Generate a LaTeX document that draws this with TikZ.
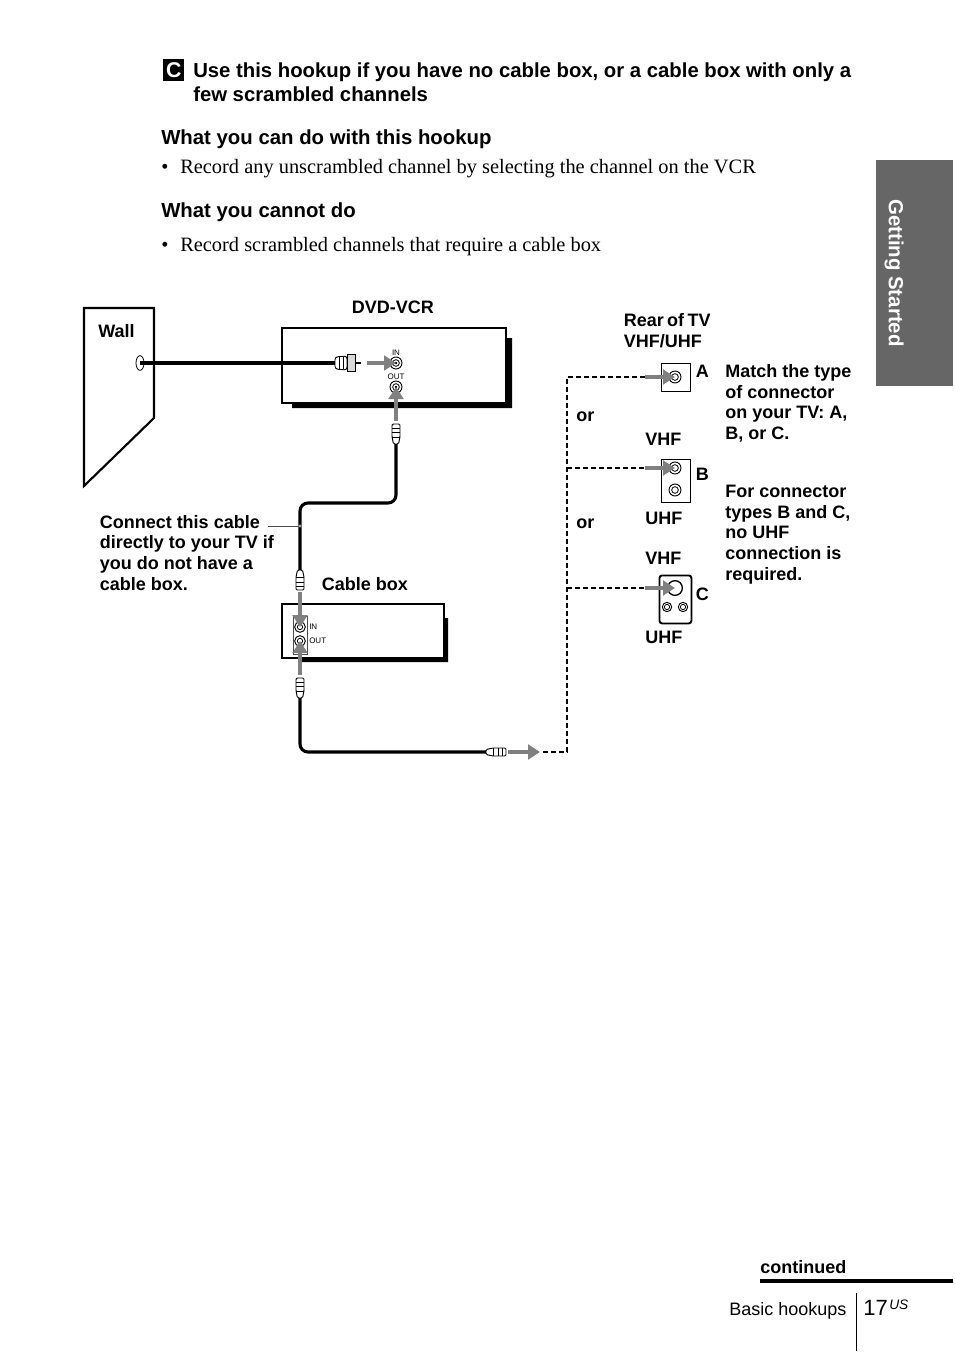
\documentclass[tikz,border=0pt]{standalone}
\usepackage{fontspec}
\setmainfont{Liberation Serif}
\setsansfont{Liberation Sans}
\usetikzlibrary{arrows.meta,positioning,calc,shapes.geometric}

\begin{document}
\begin{tikzpicture}[
    x=0.75pt, y=-0.75pt,
    head/.style={
        anchor=base west, inner sep=0pt, font=\fontsize{15.23}{18}\sffamily\bfseries
    },
    subhead/.style={
        anchor=base west, inner sep=0pt, font=\fontsize{15.27}{18}\sffamily\bfseries
    },
    body/.style={
        anchor=base west, inner sep=0pt, font=\fontsize{15.3}{18}\rmfamily
    },
    lbl/.style={
        anchor=base west, inner sep=0pt, align=left,
        font=\fontsize{13.5}{15.4}\selectfont\sffamily\bfseries
    },
    portlbl/.style={
        inner sep=0pt, font=\fontsize{6}{7}\selectfont\sffamily
    },
    devbox/.style={
        rectangle, draw=black, line width=1.6pt, fill=white, anchor=north west, inner sep=0pt
    },
    tvbox/.style={
        rectangle, draw=black, line width=1pt, fill=white, anchor=north west, inner sep=0pt
    },
    socket/.style={
        circle, draw=black, line width=0.7pt, fill=white, inner sep=0pt, minimum size=9pt
    },
    hub/.style={
        circle, draw=black, line width=0.6pt, fill=white, inner sep=0pt, minimum size=5pt
    },
    plugbody/.style={
        draw=black, line width=0.7pt, fill=white
    },
    coaxplug/.pic={
        \draw[plugbody, rounded corners=1pt] (-4,0) -- (4,0) -- (4,13) -- (2.5,20) -- (-2.5,20) -- (-4,13) -- cycle;
        \draw[line width=0.6pt] (-4,4) -- (4,4) (-4,8) -- (4,8) (-4,13) -- (4,13);
        \coordinate (-tail) at (0,20);
        \coordinate (-cap) at (0,0);
    },
    cable/.style={
        line width=2.3pt, black, rounded corners=6pt
    },
    signal/.style={
        -{Triangle[length=9pt,width=11pt]}, line width=2.8pt, black!50
    },
    dashline/.style={
        line width=1pt, black, dash pattern=on 3.5pt off 2.5pt
    }
]
\useasboundingbox (0,0) rectangle (954,1352);

% === Page text ===
\node[rectangle, fill=black, text=white, inner sep=0pt, minimum width=15.75pt, minimum height=16.5pt,
      font=\fontsize{16}{18}\sffamily\bfseries, anchor=north west] (markC) at (163,59) {C};
\node[head] (title1) at (193,78) {Use this hookup if you have no cable box, or a cable box with only a};
\node[head] (title2) at (193,102) {few scrambled channels};
\node[subhead] (cando) at (161,145) {What you can do with this hookup};
\node[body] (bullet1) at (161,174) {•};
\node[body] (cantext) at (180,174) {Record any unscrambled channel by selecting the channel on the VCR};
\node[subhead] (cannot) at (161,217) {What you cannot do};
\node[body] (bullet2) at (161,251) {•};
\node[body] (cannottext) at (180,251) {Record scrambled channels that require a cable box};

% === Side tab ===
\node[rectangle, fill=black!60, inner sep=0pt, minimum width=57.75pt, minimum height=169.5pt,
      anchor=north west] (tab) at (876,160) {};
\node[rotate=-90, text=white, inner sep=0pt, font=\fontsize{15.3}{18}\sffamily\bfseries] (tabtext) at (894,273) {Getting Started};

% === Wall ===
\draw[line width=1.6pt, black] (84,308) -- (154,308) -- (154,418) -- (84,486) -- cycle;
\node[lbl] (wall) at (98,337) {Wall};
\node[ellipse, draw=black, line width=0.6pt, fill=white, inner sep=0pt, minimum width=6pt, minimum height=11pt] (wallsocket) at (140,363) {};

% === DVD-VCR ===
\fill[black] (292,403) -- (292,408) -- (512,408) -- (512,338) -- (506,338) -- (506,403) -- cycle;
\node[devbox, minimum width=168pt, minimum height=56pt] (DVD) at (281,327) {};
\node[lbl] (dvdlbl) at (351.5,313) {DVD-VCR};
\node[socket] (dvdin) at (396,363) {};
\node[hub] at (396,363) {};
\fill (396,363) circle (1pt);
\node[socket] (dvdout) at (396,387) {};
\node[hub] at (396,387) {};
\fill (396,387) circle (1pt);
\node[portlbl] (dvdinlbl) at (396,353) {IN};
\node[portlbl] (dvdoutlbl) at (396,377) {OUT};

% === Cable box ===
\fill[black] (300,657) -- (300,662) -- (448,662) -- (448,618) -- (443,618) -- (443,657) -- cycle;
\node[devbox, line width=1.3pt, minimum width=121.5pt, minimum height=40.5pt] (CBX) at (281,603) {};
\node[lbl] (cbxlbl) at (321.5,590) {Cable box};
\node[rectangle, draw=black!70, line width=0.6pt, fill=white, inner sep=0pt, minimum width=10.5pt, minimum height=28.5pt] (panel) at (300,635) {};
\node[socket, minimum size=8pt] (cbxin) at (300,627) {};
\node[hub, minimum size=4pt] at (300,627) {};
\node[socket, minimum size=8pt] (cbxout) at (300,641) {};
\node[hub, minimum size=4pt] at (300,641) {};
\node[portlbl, anchor=west] (cbxinlbl) at (309,627) {IN};
\node[portlbl, anchor=west] (cbxoutlbl) at (309,641) {OUT};

% === TV connectors ===
\node[tvbox, minimum width=21.75pt, minimum height=21pt] (tvA) at (660.5,362.5) {};
\node[socket] (sockA) at (675,377) {};
\node[hub] at (675,377) {};
\node[tvbox, minimum width=21.75pt, minimum height=32.25pt] (tvB) at (660.5,458.5) {};
\node[socket] (sockB) at (675,468) {};
\node[hub] at (675,468) {};
\node[socket] (sockBu) at (675,490) {};
\node[hub] at (675,490) {};
\node[tvbox, rounded corners=2pt, line width=1.4pt, minimum width=24pt, minimum height=36pt] (tvC) at (658.5,574.5) {};
\node[socket, line width=1pt, minimum size=11pt] (sockC) at (675,588) {};
\node[socket, minimum size=7pt] (sockCl) at (667,607) {};
\node[hub, minimum size=4pt] at (667,607) {};
\node[socket, minimum size=7pt] (sockCr) at (683,607) {};
\node[hub, minimum size=4pt] at (683,607) {};

% === Cables ===
\coordinate (wallend) at (140,363);
\coordinate (wallplug) at (336,363);
\coordinate (bendA) at (396,503);
\coordinate (bendB) at (300,503);
\coordinate (bendC) at (300,752);
\pic (plugout) at (396,424) {coaxplug};
\pic[rotate=180] (plugin) at (300,590) {coaxplug};
\pic (plugcbx) at (300,678) {coaxplug};
\pic[rotate=-90] (plugtv) at (506,752) {coaxplug};
\draw[cable] (wallend) -- (wallplug);
\draw[cable] (plugout-tail) -- (bendA) -- (bendB) -- (plugin-tail);
\draw[cable] (plugcbx-tail) -- (bendC) -- (plugtv-tail);

% wall plug
\draw[plugbody, rounded corners=2pt] (335,357) -- (347,356) -- (347,370) -- (335,369) -- cycle;
\draw[line width=0.6pt] (339,357) -- (339,369) (343,357) -- (343,369);
\node[rectangle, draw=black, line width=0.7pt, fill=black!15, inner sep=0pt, minimum width=6pt, minimum height=13pt] (plugnut) at (351,363) {};
\coordinate (plugpin) at (361,363);
\draw[line width=1pt] (plugnut.east) -- (plugpin);

% === Signal arrows ===
\draw[signal] (367,363) -- (dvdin.center);
\draw[signal] (396,421) -- (dvdout.center);
\draw[signal] (300,592) -- (cbxin.center);
\draw[signal] (300,675) -- (cbxout.center);
\coordinate (tvout) at (540,752);
\draw[signal] (508,752) -- (tvout);

% === Dashed run to the TV ===
\coordinate (dashstart) at (543,752);
\coordinate (dashcorner) at (567,752);
\coordinate (dashtop) at (567,377);
\coordinate (dashB) at (567,468);
\coordinate (dashC) at (567,588);
\draw[dashline] (dashstart) -- (dashcorner) -- (dashtop) -- (sockA.west);
\draw[dashline] (dashB) -- (sockB.west);
\draw[dashline] (dashC) -- (sockC.west);
\draw[signal] (645,377) -- (sockA.center);
\draw[signal] (645,468) -- (sockB.center);
\draw[signal] (645,588) -- (sockC.center);

% === Lead line to the note ===
\coordinate (notelead) at (268,526);
\coordinate (notedot) at (300,526);
\draw[line width=0.6pt, black!70] (notelead) -- (notedot);
\fill[black!35] (notedot) circle (1.2pt);

% === Labels ===
\node[lbl] (note) at (99.5,590) {Connect this cable\\directly to your TV if\\you do not have a\\cable box.};
\node[lbl] (rear) at (623.5,347) {{\spaceskip=0.19em Rear of TV}\\VHF/UHF};
\node[lbl] (orA) at (576,421) {or};
\node[lbl] (orB) at (576,528) {or};
\node[lbl] (vhfB) at (645,445) {VHF};
\node[lbl] (uhfB) at (645,524) {UHF};
\node[lbl] (vhfC) at (645,564) {VHF};
\node[lbl] (uhfC) at (645,643) {UHF};
\node[lbl] (lblA) at (695.5,377) {A};
\node[lbl] (lblB) at (695.5,480) {B};
\node[lbl] (lblC) at (695.5,600) {C};
\node[lbl] (match) at (725,439.5) {Match the type\\of connector\\on your TV: A,\\B, or C.};
\node[lbl] (forcon) at (725,580) {For connector\\types B and C,\\no UHF\\connection is\\required.};

% === Footer ===
\node[lbl] (cont) at (760,1273) {continued};
\coordinate (ruleL) at (760,1281);
\coordinate (ruleR) at (953,1281);
\draw[line width=2.6pt, black] (ruleL) -- (ruleR);
\node[anchor=base west, inner sep=0pt, font=\fontsize{13.5}{16}\sffamily] (section) at (729,1315) {Basic hookups};
\coordinate (sepT) at (856,1293);
\coordinate (sepB) at (856,1351);
\draw[line width=0.7pt, black] (sepT) -- (sepB);
\node[anchor=base west, inner sep=0pt, font=\fontsize{16.5}{18}\sffamily] (pageno) at (863,1315) {17};
\node[anchor=base west, inner sep=0pt, font=\fontsize{10.3}{12}\sffamily\itshape] (pagesup) at (889,1309) {US};

\end{tikzpicture}
\end{document}
